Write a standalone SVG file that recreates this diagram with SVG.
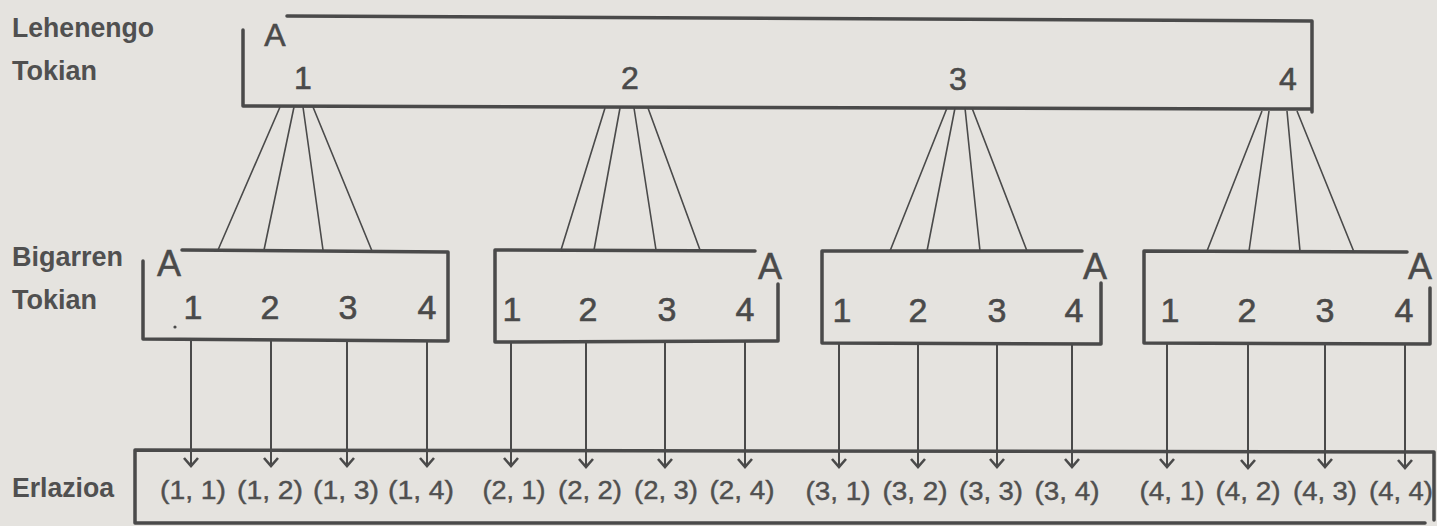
<svg xmlns="http://www.w3.org/2000/svg" width="1437" height="526" viewBox="0 0 1437 526">
<defs>
<style>
.bg{fill:#e5e3df}
.box{fill:none;stroke:#4a4a4a;stroke-width:3.5;stroke-linecap:round;stroke-linejoin:round}
.fan{fill:none;stroke:#4a4a4a;stroke-width:1.6}
.arr{fill:none;stroke:#4a4a4a;stroke-width:2}
.lbl{font-family:"Liberation Sans",Arial,sans-serif;font-weight:bold;font-size:27px;fill:#505050}
.dig{font-family:"Liberation Sans",Arial,sans-serif;font-size:34px;fill:#4a4a4a;stroke:#4a4a4a;stroke-width:0.6;text-anchor:middle}
.dtop{font-family:"Liberation Sans",Arial,sans-serif;font-size:32px;fill:#4a4a4a;stroke:#4a4a4a;stroke-width:0.6;text-anchor:middle}
.a{font-family:"Liberation Sans",Arial,sans-serif;font-size:36px;fill:#4a4a4a;stroke:#4a4a4a;stroke-width:0.5;text-anchor:middle}
.pair{font-family:"Liberation Sans",Arial,sans-serif;font-size:25px;fill:#505050;stroke:#505050;stroke-width:0.4;text-anchor:middle}
</style>
<marker id="chev" markerWidth="14" markerHeight="18" refX="11" refY="9" orient="auto" markerUnits="userSpaceOnUse" viewBox="0 0 14 18">
<path d="M3,2 L11,9 L3,16" fill="none" stroke="#4a4a4a" stroke-width="2.6"/>
</marker>
</defs>
<rect class="bg" x="0" y="0" width="1437" height="526"/>

<g id="labels">
<text class="lbl" x="12" y="37" textLength="142" lengthAdjust="spacingAndGlyphs">Lehenengo</text>
<text class="lbl" x="12" y="80" textLength="85" lengthAdjust="spacingAndGlyphs">Tokian</text>
<text class="lbl" x="12" y="266" textLength="111" lengthAdjust="spacingAndGlyphs">Bigarren</text>
<text class="lbl" x="12" y="309" textLength="85" lengthAdjust="spacingAndGlyphs">Tokian</text>
<text class="lbl" x="12" y="497" textLength="102" lengthAdjust="spacingAndGlyphs">Erlazioa</text>
</g>

<g id="node-top">
<path class="box" d="M287,16 L1312,21 L1312,112 M243,30 L243,106 L1312,109"/>
<text class="dtop" x="275" y="46">A</text>
<text class="dtop" x="303" y="89">1</text>
<text class="dtop" x="630" y="89">2</text>
<text class="dtop" x="958" y="90">3</text>
<text class="dtop" x="1288" y="90">4</text>
</g>

<g id="node-b1">
<path class="box" d="M182,250 L448,252 L448,341 L143,339 L143,261"/>
<text class="a" x="169" y="276">A</text>
<text class="dig" x="193" y="319">1</text>
<text class="dig" x="270" y="319">2</text>
<text class="dig" x="348" y="319">3</text>
<text class="dig" x="427" y="319">4</text>
<circle cx="175" cy="327" r="1.6" fill="#4a4a4a"/>
</g>

<g id="node-b2">
<path class="box" d="M755,251 L495,250 L495,342 L778,341 L778,284"/>
<text class="a" x="770" y="279">A</text>
<text class="dig" x="512" y="321">1</text>
<text class="dig" x="588" y="321">2</text>
<text class="dig" x="667" y="321">3</text>
<text class="dig" x="745" y="321">4</text>
</g>

<g id="node-b3">
<path class="box" d="M1082,251 L822,251 L822,343 L1101,344 L1101,283"/>
<text class="a" x="1095" y="279">A</text>
<text class="dig" x="842" y="322">1</text>
<text class="dig" x="918" y="322">2</text>
<text class="dig" x="997" y="322">3</text>
<text class="dig" x="1074" y="322">4</text>
</g>

<g id="node-b4">
<path class="box" d="M1407,252 L1144,251 L1144,343 L1430,344 L1430,288"/>
<text class="a" x="1420" y="279">A</text>
<text class="dig" x="1170" y="322">1</text>
<text class="dig" x="1247" y="322">2</text>
<text class="dig" x="1325" y="322">3</text>
<text class="dig" x="1404" y="322">4</text>
</g>

<g id="node-rel">
<path class="box" d="M135,450 L1434,452 L1434,520 M135,450 L135,523 L1425,523"/>
<text class="pair" x="193" y="499" textLength="66" lengthAdjust="spacingAndGlyphs">(1, 1)</text>
<text class="pair" x="270" y="499" textLength="66" lengthAdjust="spacingAndGlyphs">(1, 2)</text>
<text class="pair" x="346" y="499" textLength="66" lengthAdjust="spacingAndGlyphs">(1, 3)</text>
<text class="pair" x="421" y="499" textLength="66" lengthAdjust="spacingAndGlyphs">(1, 4)</text>
<text class="pair" x="514" y="499" textLength="63" lengthAdjust="spacingAndGlyphs">(2, 1)</text>
<text class="pair" x="590" y="499" textLength="64" lengthAdjust="spacingAndGlyphs">(2, 2)</text>
<text class="pair" x="666" y="499" textLength="64" lengthAdjust="spacingAndGlyphs">(2, 3)</text>
<text class="pair" x="742" y="499" textLength="65" lengthAdjust="spacingAndGlyphs">(2, 4)</text>
<text class="pair" x="838" y="500" textLength="65" lengthAdjust="spacingAndGlyphs">(3, 1)</text>
<text class="pair" x="915" y="500" textLength="65" lengthAdjust="spacingAndGlyphs">(3, 2)</text>
<text class="pair" x="991" y="500" textLength="64" lengthAdjust="spacingAndGlyphs">(3, 3)</text>
<text class="pair" x="1067" y="500" textLength="65" lengthAdjust="spacingAndGlyphs">(3, 4)</text>
<text class="pair" x="1172" y="500" textLength="65" lengthAdjust="spacingAndGlyphs">(4, 1)</text>
<text class="pair" x="1248" y="500" textLength="65" lengthAdjust="spacingAndGlyphs">(4, 2)</text>
<text class="pair" x="1325" y="500" textLength="64" lengthAdjust="spacingAndGlyphs">(4, 3)</text>
<text class="pair" x="1401" y="500" textLength="64" lengthAdjust="spacingAndGlyphs">(4, 4)</text>
</g>

<g id="connectors">
<path class="fan" d="M280,107 L218,250 M294,107 L264,250 M303,107 L323,250 M313,107 L372,251"/>
<path class="fan" d="M605,108 L561,250 M620,108 L594,250 M634,108 L656,250 M648,108 L700,250"/>
<path class="fan" d="M947,108 L890,251 M955,108 L927,251 M965,108 L980,251 M972,108 L1027,251"/>
<path class="fan" d="M1262,111 L1207,251 M1269,111 L1249,251 M1287,111 L1300,251 M1297,111 L1354,252"/>
<g class="arr" marker-end="url(#chev)">
<path d="M191,341 L191,466"/><path d="M271,341 L271,466"/><path d="M347,341 L347,466"/><path d="M427,341 L427,466"/>
<path d="M511,342 L511,466"/><path d="M586,342 L586,467"/><path d="M665,342 L665,467"/><path d="M745,342 L745,467"/>
<path d="M839,344 L839,467"/><path d="M918,344 L918,467"/><path d="M997,344 L997,467"/><path d="M1072,344 L1072,467"/>
<path d="M1167,344 L1167,467"/><path d="M1248,344 L1248,468"/><path d="M1325,344 L1325,467"/><path d="M1405,344 L1405,468"/>
</g>
</g>
</svg>
